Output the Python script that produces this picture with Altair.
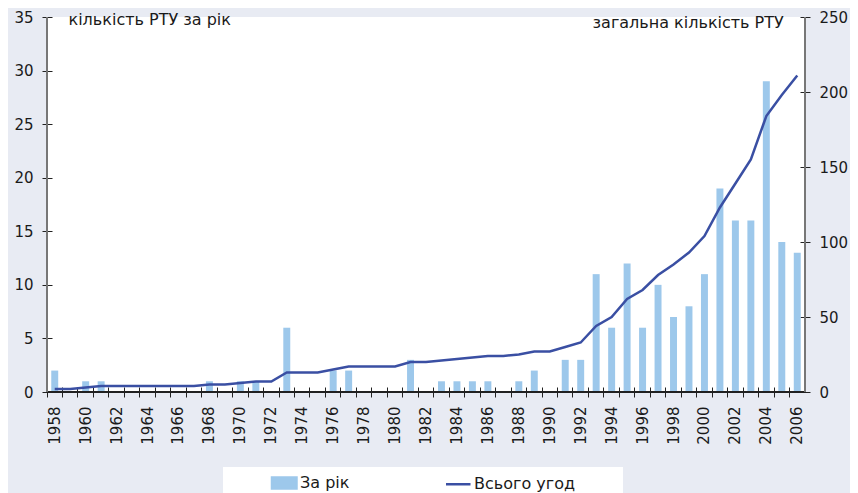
import altair as alt
import pandas as pd

# ---- data ----
years = list(range(1958, 2007))
per_year = [2, 0, 1, 1, 0, 0, 0, 0, 0, 0,
            1, 0, 1, 1, 0, 6, 0, 0, 2, 2,
            0, 0, 0, 3, 0, 1, 1, 1, 1, 0,
            1, 2, 0, 3, 3, 11, 6, 12, 6, 10,
            7, 8, 11, 19, 16, 16, 29, 14, 13]
total = [2, 2, 3, 4, 4, 4, 4, 4, 4, 4,
         5, 5, 6, 7, 7, 13, 13, 13, 15, 17,
         17, 17, 17, 20, 20, 21, 22, 23, 24, 24,
         25, 27, 27, 30, 33, 44, 50, 62, 68, 78,
         85, 93, 104, 123, 139, 155, 184, 198, 211]
series_names = ["За рік", "Всього угод"]
left_ticks = [0, 5, 10, 15, 20, 25, 30, 35]
right_ticks = [0, 50, 100, 150, 200, 250]

FONT = "DejaVu Sans"
TEXT = "#1a1a1a"
BAR_C = "#9DC8EB"
LINE_C = "#3A4FA3"
BLANK = "\u2800"  # blank spacer glyph for the legend box's right margin

bar_df = pd.DataFrame({"year": years, "value": per_year, "series": series_names[0]})
line_df = pd.DataFrame({"year": years, "value": total, "series": series_names[1]})

color_scale = alt.Scale(domain=series_names, range=[BAR_C, LINE_C])

x_axis = alt.Axis(
    title=None, labelAngle=-90,
    labelExpr="datum.value % 2 == 0 ? datum.label : ''",
    bandPosition=0, domain=False, offset=-5, tickSize=10, tickColor="#222",
    labelPadding=9, labelFontSize=15, labelFont=FONT, labelColor=TEXT,
    labelOverlap=False, grid=False,
)
x_scale = alt.Scale(paddingInner=0, paddingOuter=0)

left_axis = alt.Axis(
    title="кількість РТУ за рік", orient="left", values=left_ticks,
    offset=-5, tickSize=10, tickColor="#222", domain=False, grid=False,
    labelPadding=9, labelFontSize=15, labelFont=FONT, labelColor=TEXT,
    titleAngle=0, titleX=16, titleY=7.5, titleAlign="left",
    titleBaseline="alphabetic", titleFont=FONT, titleFontSize=16,
    titleFontWeight="normal", titleColor=TEXT,
)
left_scale = alt.Scale(domain=[0, 35], nice=False)

is_bar = "datum.value == '" + series_names[0] + "'"
legend = alt.Legend(
    title=BLANK, titleOrient="right", titleFontSize=2, titlePadding=45,
    titleColor="white",
    orient="none", legendX=176, legendY=450, direction="horizontal",
    fillColor="white", padding=2, columnPadding=49,
    symbolType={"expr": is_bar + " ? 'M-1,-0.45H1V0.45H-1Z' : 'stroke'"},
    symbolSize=600, symbolStrokeWidth=2.5, symbolOffset=45.75,
    symbolFillColor={"expr": is_bar + " ? '" + BAR_C + "' : 'transparent'"},
    symbolStrokeColor={"expr": is_bar + " ? 'transparent' : '" + LINE_C + "'"},
    labelFontSize=16, labelFont=FONT, labelColor=TEXT, labelOffset=2.25,
)

bars = alt.Chart(bar_df).mark_bar(width=alt.RelativeBandSize(0.45)).encode(
    x=alt.X("year:O", scale=x_scale, axis=x_axis),
    y=alt.Y("value:Q", scale=left_scale, axis=left_axis),
    color=alt.Color("series:N", scale=color_scale, legend=legend),
)

baseline = alt.Chart(bar_df).mark_rule(color="#222", strokeWidth=1.5).encode(
    y=alt.YDatum(0, axis=left_axis, scale=left_scale)
)
left_line = alt.Chart(bar_df).mark_rule(color="#777", strokeWidth=2).encode(
    x=alt.XDatum(years[0], type="ordinal", bandPosition=0, axis=x_axis, scale=x_scale)
)
right_line = alt.Chart(bar_df).mark_rule(color="#777", strokeWidth=2).encode(
    x=alt.XDatum(years[-1], type="ordinal", bandPosition=1, axis=x_axis, scale=x_scale)
)

line = alt.Chart(line_df).mark_line(strokeWidth=2.5).encode(
    x=alt.X("year:O", axis=x_axis, scale=x_scale),
    y=alt.Y(
        "value:Q",
        scale=alt.Scale(domain=[0, 250], nice=False),
        axis=alt.Axis(
            title="загальна кількість РТУ", orient="right", values=right_ticks,
            offset=-5, tickSize=10, tickColor="#222", domain=False, grid=False,
            labelPadding=9, labelFontSize=15, labelFont=FONT, labelColor=TEXT,
            titleAngle=0, titleX=-16.7, titleY=10.3, titleAlign="right",
            titleBaseline="alphabetic", titleFont=FONT, titleFontSize=16,
            titleFontWeight="normal", titleColor=TEXT,
        ),
    ),
    color=alt.Color("series:N", scale=color_scale, legend=None),
)

left = alt.layer(bars, baseline, left_line, right_line)
chart = (
    alt.layer(left, line)
    .resolve_scale(y="independent")
    .properties(
        width=758, height=375,
        autosize=alt.AutoSizeParams(type="none"),
        padding={"left": 39, "top": 9, "right": 45, "bottom": 101},
        background="#E8EBF3",
    )
    .configure_view(stroke=None, fill="white")
)

chart.save("out.html", embed_options={"renderer": "svg", "actions": False})
